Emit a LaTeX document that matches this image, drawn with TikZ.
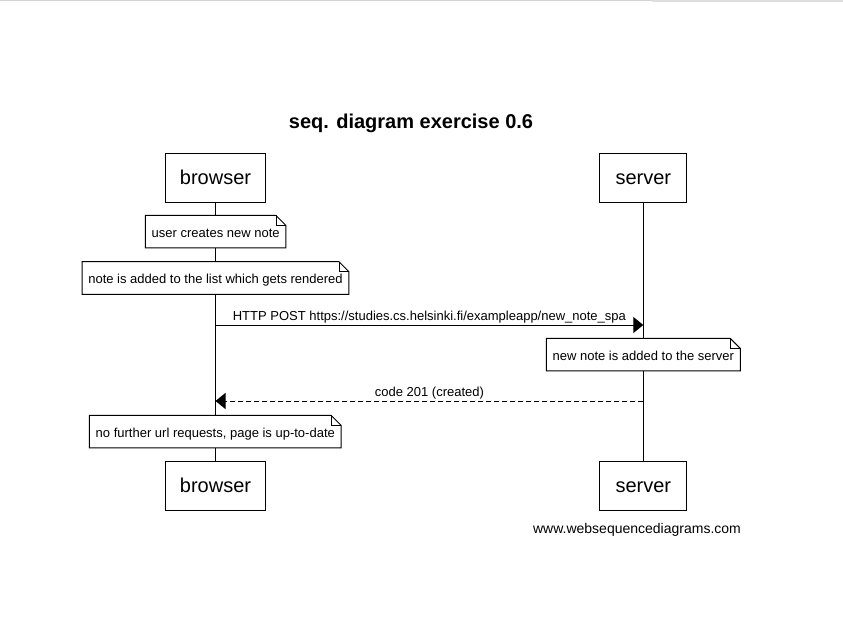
\documentclass[tikz,border=0pt]{standalone}
\usepackage{fontspec}
\setmainfont{Liberation Sans}
\usetikzlibrary{arrows.meta}
\tikzset{
  px/.style={x=0.75pt,y=-0.75pt},
  actor/.style={draw,line width=0.75pt,fill=white,minimum height=36.75pt,inner sep=0pt,text height=9.9pt,text depth=0pt,font=\fontsize{15}{18}\selectfont},
  notebox/.style={fill=white,minimum height=24pt,inner xsep=4.5pt,inner ysep=0pt,text height=8.4pt,text depth=0pt,font=\fontsize{9.75}{12}\selectfont},
  life/.style={line width=0.75pt},
  msg/.style={line width=0.75pt,-{Triangle[length=7.5pt,width=12pt]}},
  reply/.style={msg,dash pattern=on 3.75pt off 2.25pt},
  lbl/.style={font=\fontsize{9.75}{12}\selectfont,inner sep=1.3pt,text depth=2.05pt}
}
\newcommand\notefold[1]{%
  \draw[line width=0.75pt,line join=miter] (#1.south west) -- (#1.north west) -- ([xshift=-7.5pt]#1.north east) -- ([yshift=-7.5pt]#1.north east) -- (#1.south east) -- cycle;
  \draw[line width=0.6pt] ([xshift=-7.5pt]#1.north east) |- ([yshift=-7.5pt]#1.north east);}
\begin{document}
\begin{tikzpicture}[px]
\useasboundingbox (0,0) rectangle (843,638);
\fill[white] (0,0) rectangle (843,638);
\draw[gray!35,line width=0.75pt] (0,1) -- (843,1);
\fill[gray!25] (652,0) rectangle (843,2.5);
% title
\node (title) at (411,123.3) {\fontsize{15}{18}\selectfont\bfseries seq. diagram exercise 0.6};
% participants
\node[actor,minimum width=75pt] (btop) at (215.5,177.7) {browser};
\node[actor,minimum width=65.25pt] (stop) at (643.3,177.7) {server};
\node[actor,minimum width=75pt] (bbot) at (215.5,485.8) {browser};
\node[actor,minimum width=65.25pt] (sbot) at (643.3,485.8) {server};
% lifelines
\draw[life] (btop.south) -- (bbot.north);
\draw[life] (stop.south) -- (sbot.north);
% notes
\node[notebox] (n1) at (215.7,231.7) {user creates new note};
\notefold{n1}
\node[notebox] (n2) at (215.5,278) {note is added to the list which gets rendered};
\notefold{n2}
% message 1
\coordinate (m1s) at (215.5,325);
\coordinate (m1e) at (643.3,325);
\draw[msg] (m1s) -- (m1e) node[lbl,midway,above] (l1) {HTTP POST https://studies.cs.helsinki.fi/exampleapp/new\_note\_spa};
\node[notebox] (n3) at (643.3,354.6) {new note is added to the server};
\notefold{n3}
% message 2
\coordinate (m2s) at (643.3,401);
\coordinate (m2e) at (215.5,401);
\draw[reply] (m2s) -- (m2e) node[lbl,midway,above] (l2) {code 201 (created)};
\node[notebox] (n4) at (215.3,431.7) {no further url requests, page is up-to-date};
\notefold{n4}
% footer
\node (foot) at (637,529.8) {\fontsize{10.5}{13}\selectfont www.websequencediagrams.com};
\end{tikzpicture}
\end{document}
